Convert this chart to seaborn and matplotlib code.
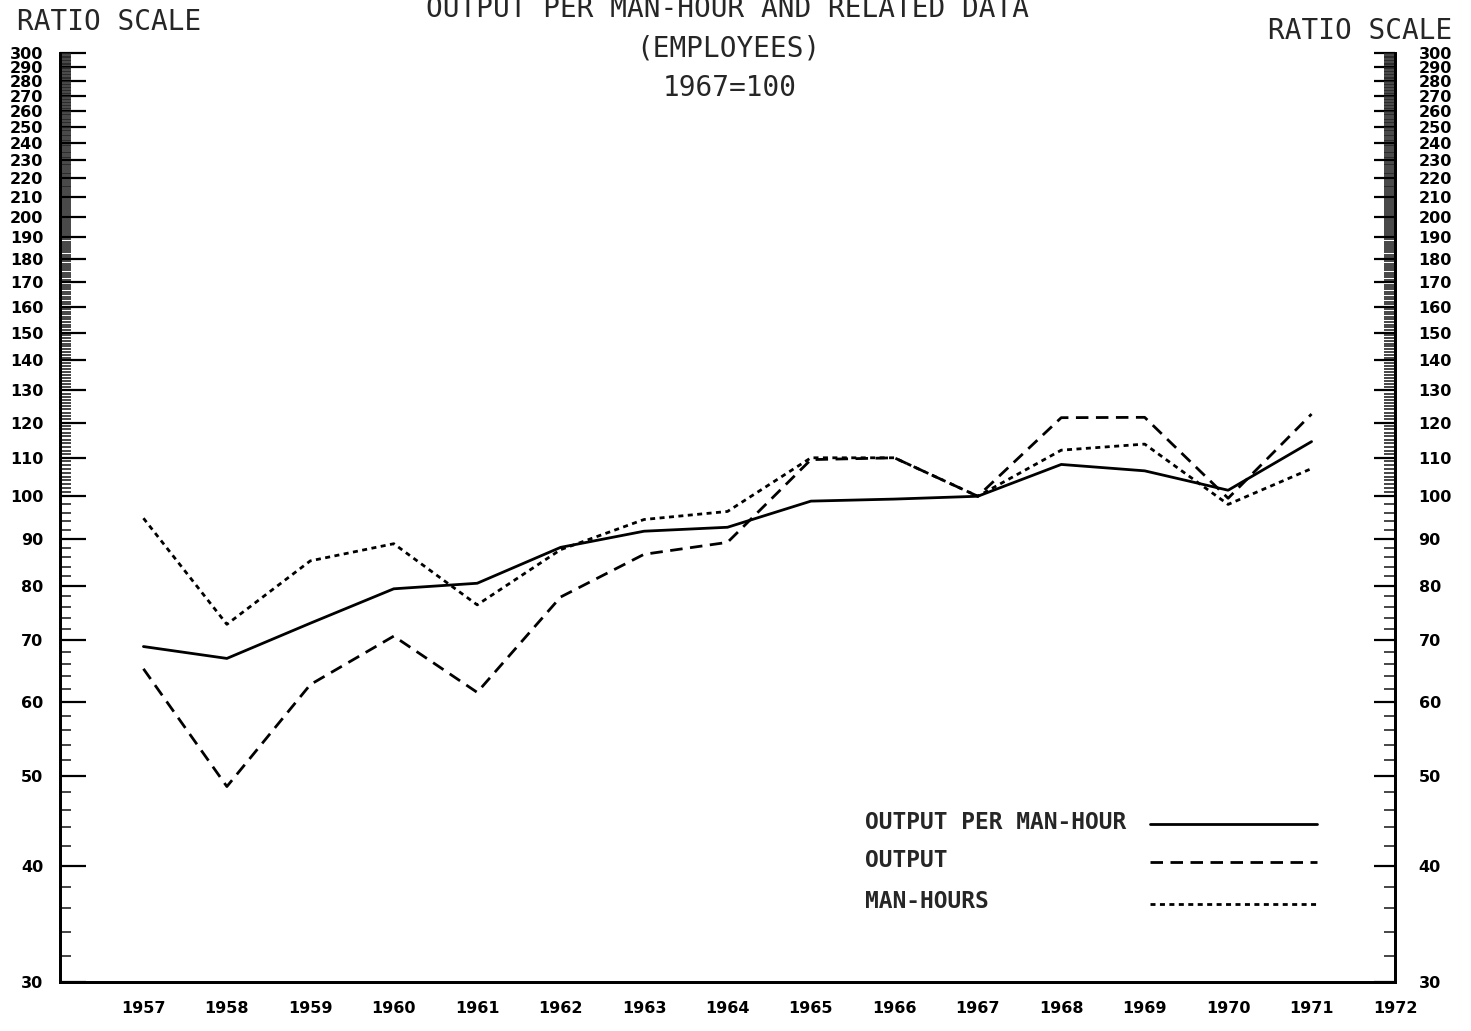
import matplotlib
matplotlib.use("Agg")
import matplotlib.pyplot as plt
from matplotlib.lines import Line2D
from matplotlib.ticker import FixedLocator, FixedFormatter, NullFormatter
import numpy as np
import pandas as pd
import seaborn as sns

# Index values, 1967 = 100
years = list(range(1957, 1972))
output_per_man_hour = [68.9, 66.9, 73.0, 79.5, 80.6, 88.1, 91.7, 92.6, 98.8, 99.3,
                       100.0, 108.2, 106.5, 101.5, 114.5]
output = [65.2, 48.7, 62.7, 70.7, 61.5, 77.9, 86.6, 89.2, 109.5, 110.0,
          100.0, 121.5, 121.6, 99.5, 122.6]
man_hours = [94.7, 72.8, 85.2, 88.9, 76.4, 87.6, 94.4, 96.3, 110.0, 110.0,
             100.0, 112.1, 113.8, 98.0, 107.1]

series_names = ["OUTPUT PER MAN-HOUR", "OUTPUT", "MAN-HOURS"]
year_ticks = list(range(1957, 1973))
y_major = list(range(30, 301, 10))
y_minor = [v for v in range(32, 100, 2) if v % 10] + [v for v in range(101, 300) if v % 10]

sns.set_style("white")
plt.rcParams["font.family"] = ["DejaVu Sans"]

df = pd.DataFrame({
    "year": years * 3,
    "value": output_per_man_hour + output + man_hours,
    "series": [series_names[0]] * len(years) + [series_names[1]] * len(years)
              + [series_names[2]] * len(years),
})

dash_map = {series_names[0]: "", series_names[1]: (4.5, 2.7), series_names[2]: (1.8, 1.6)}

fig = plt.figure(figsize=(14.71, 10.31), dpi=100)
ax = fig.add_axes([60 / 1471, 1 - 982 / 1031, 1335 / 1471, 929 / 1031])

sns.lineplot(data=df, x="year", y="value", style="series", dashes=dash_map,
             color="black", linewidth=2.0, legend=False, sort=False, ax=ax)

ax.set_yscale("log")
ax.set_ylim(30, 300)
ax.set_xlim(1956, 1972)
ax.set_xlabel("")
ax.set_ylabel("")

tick_font = {"family": "DejaVu Sans", "weight": "bold", "size": 11.5}

# x axis: year ticks pointing up into the plot
ax.xaxis.set_major_locator(FixedLocator(year_ticks))
ax.xaxis.set_major_formatter(FixedFormatter([str(y) for y in year_ticks]))
ax.tick_params(axis="x", direction="in", length=16, width=1.6, pad=14, colors="black")
for lab in ax.get_xticklabels():
    lab.set_fontproperties(tick_font)

# left ratio scale
ax.yaxis.set_major_locator(FixedLocator(y_major))
ax.yaxis.set_major_formatter(FixedFormatter([str(v) for v in y_major]))
ax.yaxis.set_minor_locator(FixedLocator(y_minor))
ax.yaxis.set_minor_formatter(NullFormatter())
ax.tick_params(axis="y", which="major", direction="in", length=19, width=1.6, pad=12,
               left=True, right=False, colors="black")
ax.tick_params(axis="y", which="minor", direction="in", length=8, width=1.2,
               left=True, right=False)
for lab in ax.get_yticklabels():
    lab.set_fontproperties(tick_font)

# right ratio scale
ax2 = ax.twinx()
ax2.set_yscale("log")
ax2.set_ylim(30, 300)
ax2.yaxis.set_major_locator(FixedLocator(y_major))
ax2.yaxis.set_major_formatter(FixedFormatter([str(v) for v in y_major]))
ax2.yaxis.set_minor_locator(FixedLocator(y_minor))
ax2.yaxis.set_minor_formatter(NullFormatter())
ax2.tick_params(axis="y", which="major", direction="in", length=15, width=1.6, pad=17,
                colors="black")
ax2.tick_params(axis="y", which="minor", direction="in", length=8, width=1.2)
for lab in ax2.get_yticklabels():
    lab.set_fontproperties(tick_font)

for a in (ax, ax2):
    a.spines["top"].set_visible(False)
    for s in ("left", "right", "bottom"):
        a.spines[s].set_linewidth(2.0)
        a.spines[s].set_color("black")
    a.grid(False)

# legend keys drawn to the right of their labels
key_rows = [0.170, 0.129, 0.084]
for name, yk in zip(series_names, key_rows):
    d = dash_map[name]
    ln = Line2D([0.8165, 0.9416], [yk, yk], transform=ax.transAxes, color="black",
                linewidth=2.0)
    if d:
        ln.set_dashes(d)
    ax.add_line(ln)

legend_font = {"family": "DejaVu Sans Mono", "weight": "bold", "size": 16.5}
for name, yb in zip(series_names, [1 - 829 / 1031, 1 - 867 / 1031, 1 - 908 / 1031]):
    fig.text(865 / 1471, yb, name, ha="left", va="baseline", fontdict=legend_font)

title_font = {"family": "DejaVu Sans Mono", "size": 20}
fig.text(728 / 1471, 1 - 17 / 1031, "OUTPUT PER MAN-HOUR AND RELATED DATA",
         ha="center", va="baseline", fontdict=title_font)
fig.text(728 / 1471, 1 - 56 / 1031, "(EMPLOYEES)", ha="center", va="baseline",
         fontdict=title_font)
fig.text(730 / 1471, 1 - 96 / 1031, "1967=100", ha="center", va="baseline",
         fontdict=title_font)
fig.text(17 / 1471, 1 - 30 / 1031, "RATIO SCALE", ha="left", va="baseline",
         fontdict=title_font)
fig.text(1452 / 1471, 1 - 39 / 1031, "RATIO SCALE", ha="right", va="baseline",
         fontdict=title_font)

fig.savefig("out.png", dpi=100, facecolor="white")
